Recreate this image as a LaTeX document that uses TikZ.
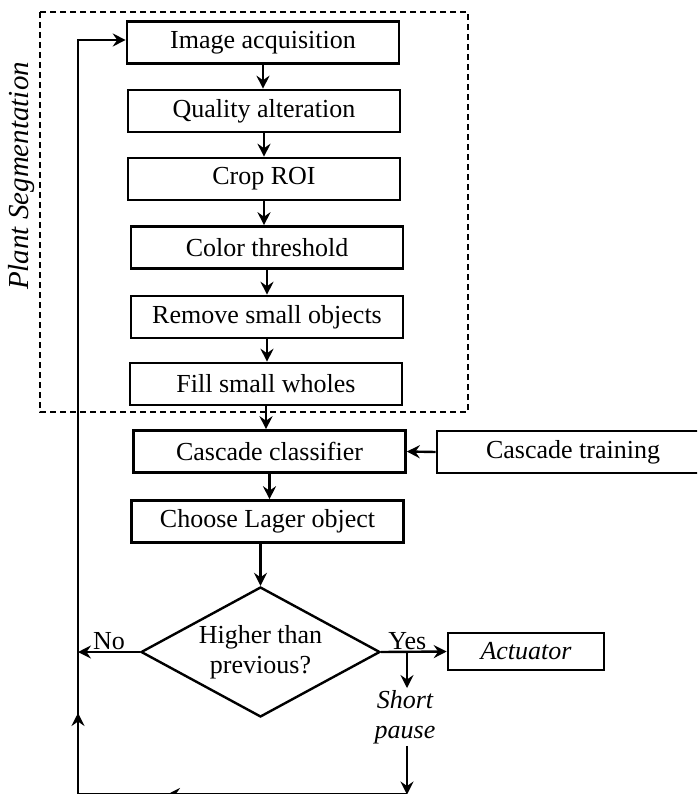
\documentclass[tikz,border=0pt]{standalone}
\usepackage{fontspec}
\setmainfont{Liberation Serif}
\usetikzlibrary{shapes.geometric,arrows.meta}

\begin{document}
\begin{tikzpicture}[x=1pt,y=-1pt,
    every node/.style={font=\fontsize{26}{30}\selectfont},
    italic/.style={font=\fontsize{26}{30}\selectfont\itshape},
    box/.style={draw,line width=2.6pt,minimum width=272pt,minimum height=42pt,inner sep=0pt},
    flow/.style={line width=2.4pt,-{Stealth[length=13pt,width=13pt,inset=4.5pt]}},
    line/.style={line width=2.4pt}]
                  \useasboundingbox (0,0) rectangle (697,794);
                  \clip (0,0) rectangle (697,794);
                  % segmentation block
                  \draw[line width=1.8pt,dash pattern=on 6pt off 4pt] (40,12) rectangle (468,412);
                  \node[rotate=90,font=\fontsize{29}{32}\selectfont\itshape] (seglabel) at (22,176) {Plant Segmentation};
                  \node[box] (acq) at (263,42.5) {Image acquisition};
                  \node[box] (qual) at (264,111) {Quality alteration};
                  \node[box] (crop) at (264,179) {Crop ROI};
                  \node[box] (thresh) at (267,247.5) {Color threshold};
                  \node[box] (remove) at (267,317) {Remove small objects};
                  \node[box] (fill) at (266,384) {Fill small wholes};
                  % detection
                  \node[box] (classif) at (269.5,451.5) {Cascade classifier};
                  \node[box] (training) at (573,452) {Cascade training};
                  \node[box] (choose) at (267.5,521.5) {Choose Lager object};
                  \node[draw,line width=2.4pt,diamond,aspect=1.84,inner sep=0pt,minimum width=239pt,minimum height=130pt,align=center] (decide) at (260.5,652) {Higher than\\previous?};
                  \node[box,italic,minimum width=156pt,minimum height=37pt] (actuator) at (526,651.5) {Actuator};
                  \node[italic,align=center,inner sep=2pt] (pause) at (405,717) {Short\\pause};
                  \coordinate (split) at (407,652);
                  \coordinate (looptl) at (78,40);
                  \coordinate (loopbl) at (78,794.5);
                  \coordinate (loopbr) at (407,794.5);
                  \draw[flow] (acq.south) -- (acq.south |- qual.north);
                  \draw[flow] (qual.south) -- (qual.south |- crop.north);
                  \draw[flow] (crop.south) -- (crop.south |- thresh.north);
                  \draw[flow] (thresh.south) -- (thresh.south |- remove.north);
                  \draw[flow] (remove.south) -- (remove.south |- fill.north);
                  \draw[flow] (fill.south) -- (fill.south |- classif.north);
                  \draw[flow] (training.west) -- (classif.east);
                  \draw[flow] (classif.south) -- (classif.south |- choose.north);
                  \draw[flow] (decide.north |- choose.south) -- (decide.north);
                  \draw[flow] (decide.west) -- (decide.west -| looptl) node[midway,above=-2pt] {No};
                  \draw[flow] (decide.east) -- (actuator.west) node[pos=0.4,above=-2pt] {Yes};
                  \draw[flow] (split) -- (split |- pause.north);
                  \draw[flow] (split |- pause.south) -- (loopbr);
                  % loop back
                  \draw[flow] (loopbr) -- (loopbl) -- (looptl) -- (acq.west |- looptl);
                  \draw[flow] (loopbr) -- (167,794.5);
                  \draw[flow] (loopbl) -- (78,713);
\end{tikzpicture}
\end{document}
